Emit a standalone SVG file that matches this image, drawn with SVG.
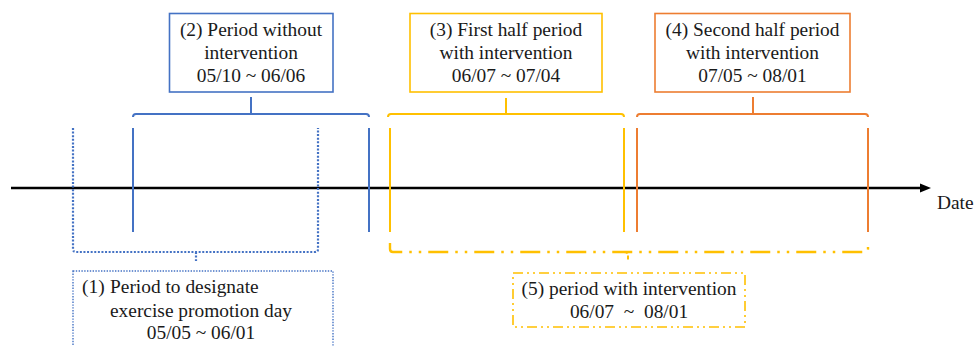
<svg xmlns="http://www.w3.org/2000/svg" width="975" height="346" viewBox="0 0 975 346">
<style>
text{font-family:"Liberation Serif","Times New Roman",serif;font-size:19.4px;fill:#1a1a1a}
.c{text-anchor:middle}
.blue{stroke:#4472C4}
.yel{stroke:#FFC000}
.ora{stroke:#ED7D31}
.ln{fill:none;stroke-width:2}
.box{fill:#fff;stroke-width:1.6}
.dot{stroke-dasharray:2 1.6;stroke-width:2.2}
.dotbox{stroke-dasharray:1.4 1.4;stroke-width:1.4}
.dd{stroke-dasharray:20 7 2.5 7 2.5 7;stroke-width:2.4}
.ddbox{stroke-dasharray:10 4 2 4 2 4;stroke-width:1.6}
</style>
<rect width="975" height="346" fill="#fff"/>
<g id="connectors">
<line x1="11" y1="188" x2="922" y2="188" stroke="#000" stroke-width="2.5"/>
<polygon points="931,188 920,183.5 920,192.5" fill="#000"/>
<path class="ln blue" d="M133,117 Q133,114 136,114 H366 Q369,114 369,117 M251,97 V114"/>
<path class="ln blue" d="M133,128 V232 M369,128 V232"/>
<path class="ln yel" d="M388,117 Q388,114 391,114 H621 Q624,114 624,117 M506,98 V114"/>
<path class="ln yel" d="M390,128 V232 M624,128 V232"/>
<path class="ln ora" d="M637,117 Q637,114 640,114 H865 Q868,114 868,117 M753,97 V114"/>
<path class="ln ora" d="M637,128 V232 M868,128 V232"/>
<path class="ln blue dot" d="M73,128 V249 Q73,252 76,252 H315 Q318,252 318,249 V128 M196,252 V261"/>
<path class="ln yel dd" d="M390,243 V249 Q390,252 393,252 H865 Q868,252 868,249 V240"/>
<path class="ln yel" stroke-width="2.2" d="M624,252 Q628,252 628,255 V261" stroke-dasharray="4 2"/>
</g>
<g id="node2">
<rect class="box blue" x="169.5" y="13.5" width="163.5" height="78.5"/>
<text class="c" x="251" y="35.5">(2) Period without</text>
<text class="c" x="251" y="59">intervention</text>
<text class="c" x="251" y="82">05/10 ~ 06/06</text>
</g>
<g id="node3">
<rect class="box yel" x="410" y="13.5" width="192" height="78.5"/>
<text class="c" x="506" y="35.5">(3) First half period</text>
<text class="c" x="506" y="59">with intervention</text>
<text class="c" x="506" y="82">06/07 ~ 07/04</text>
</g>
<g id="node4">
<rect class="box ora" x="655" y="13.5" width="195" height="78.5"/>
<text class="c" x="752.5" y="35.5">(4) Second half period</text>
<text class="c" x="752.5" y="59">with intervention</text>
<text class="c" x="752.5" y="82">07/05 ~ 08/01</text>
</g>
<g id="node1">
<rect class="box blue dotbox" x="73" y="271" width="260" height="85"/>
<text x="82" y="293">(1)<tspan x="110">Period to designate</tspan></text>
<text x="110" y="317">exercise promotion day</text>
<text class="c" x="201" y="339">05/05 ~ 06/01</text>
</g>
<g id="node5">
<rect class="box yel ddbox" x="513" y="273" width="232" height="54"/>
<text class="c" x="629" y="295">(5) period with intervention</text>
<text class="c" x="629" y="318" xml:space="preserve">06/07  ~  08/01</text>
</g>
<g id="axis-label">
<text x="937" y="209">Date</text>
</g>
</svg>
